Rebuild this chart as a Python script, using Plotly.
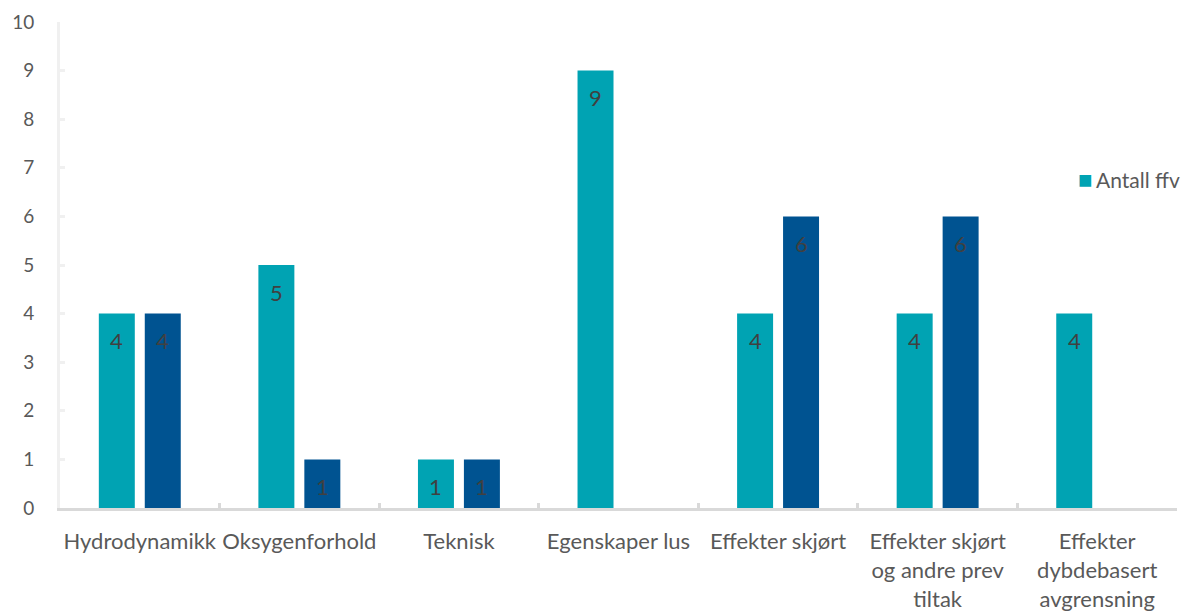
import plotly.graph_objects as go

categories = ["Hydrodynamikk", "Oksygenforhold", "Teknisk", "Egenskaper lus",
              "Effekter skjørt", "Effekter skjørt<br>og andre prev<br>tiltak",
              "Effekter<br>dybdebasert<br>avgrensning"]
antall_ffv = [4, 5, 1, 9, 4, 4, 4]
serie2 = [4, 1, 1, None, 6, 6, None]
y_ticks = list(range(0, 11))
legend_label = "Antall ffv"

font_family = "Lato, 'Open Sans', sans-serif"
teal = "#00A3B3"
navy = "#005391"

fig = go.Figure()
fig.add_trace(go.Bar(
    x=categories, y=antall_ffv, name=legend_label,
    marker=dict(color=teal, line=dict(width=0)),
))
fig.add_trace(go.Bar(
    x=categories, y=serie2, name="",
    marker=dict(color=navy, line=dict(width=0)),
))

# data labels, placed at each bar's value through the axes
for series, dx in ((antall_ffv, -23), (serie2, 23)):
    for cat, v in zip(categories, series):
        if v is None:
            continue
        fig.add_annotation(x=cat, y=v, text=str(v), showarrow=False,
                           xshift=dx, yshift=-27, yanchor="middle",
                           font=dict(color="#404040", size=22, family=font_family))

# legend (drawn as text so it does not shrink the plot area)
fig.add_annotation(
    xref="paper", yref="paper", x=0.9095, y=0.678, xanchor="left", yanchor="middle",
    showarrow=False,
    text=(f"<span style='color:{teal};font-size:24px'>■</span>"
          f"<span style='font-size:14px'> </span>{legend_label}"),
    font=dict(size=21, color="#595959", family=font_family),
)

fig.update_layout(
    width=1187, height=612,
    margin=dict(l=60, r=10, t=22, b=104),
    plot_bgcolor="white", paper_bgcolor="white",
    barmode="group", bargap=0.424, bargroupgap=0.217,
    font=dict(family=font_family, color="#595959", size=22),
    showlegend=False,
)
fig.update_xaxes(
    type="category", showgrid=False, showline=True, linecolor="#D9D9D9", linewidth=3,
    ticks="inside", tickson="boundaries", ticklen=5, tickcolor="#D9D9D9", tickwidth=3,
    tickfont=dict(size=22, color="#595959"), ticklabelstandoff=12, automargin=False,
    tickangle=0,
)
fig.update_yaxes(
    range=[0, 10], tickvals=y_ticks, showgrid=False, showline=True,
    linecolor="#F0F0F0", linewidth=3, ticks="inside", ticklen=5, tickcolor="#F0F0F0",
    tickwidth=3, tickfont=dict(size=19, color="#595959"), zeroline=False,
    ticklabelstandoff=19, automargin=False,
)

fig.write_html("out.html", config={"displayModeBar": False},
               post_script="document.body.style.margin='0';")
